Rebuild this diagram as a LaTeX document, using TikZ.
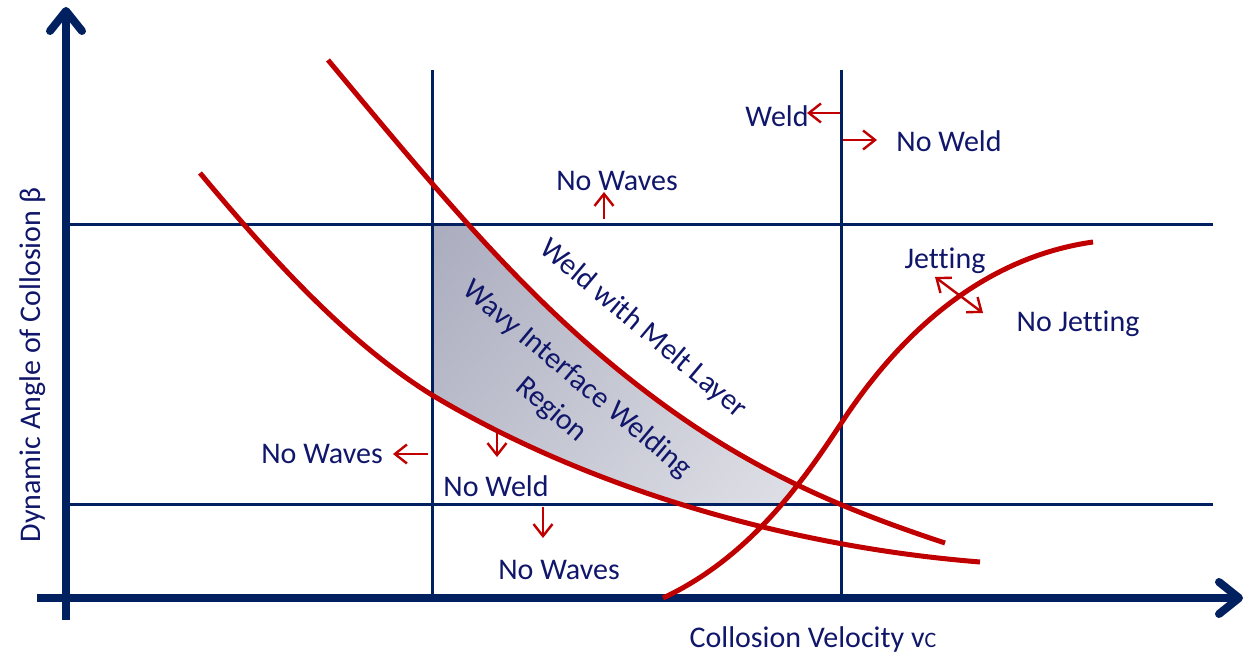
\documentclass[tikz,border=0pt]{standalone}
\usepackage{fontspec}
\setmainfont{Carlito}[Ligatures=CommonOff]
\usepackage{tikz}
\usetikzlibrary{arrows.meta, calc}
\definecolor{axisblue}{HTML}{002060}
\definecolor{textblue}{HTML}{10166A}
\definecolor{limitred}{HTML}{C00000}
\definecolor{shadedark}{HTML}{999CB2}
\definecolor{shadelight}{HTML}{E4E5EA}
\tikzset{
  axisline/.style={line width=4pt, draw=axisblue, -{Straight Barb[round, length=10pt, width=16pt]}},
  gridline/.style={line width=1.5pt, draw=axisblue},
  limitline/.style={line width=2.5pt, draw=limitred},
  hint/.style={line width=1.2pt, draw=limitred, -{Straight Barb[length=6pt, width=9.5pt]}},
  hintboth/.style={line width=1.2pt, draw=limitred, {Straight Barb[length=6pt, width=9.5pt]}-{Straight Barb[length=6pt, width=9.5pt]}},
  label/.style={text=textblue, font=\fontsize{15}{18}\selectfont, inner sep=0pt}
}

\begin{document}
\begin{tikzpicture}[x=0.5pt, y=-0.5pt]
  \useasboundingbox (0,0) rectangle (1252,656);

  % 1. shaded region between the two weld limits
  \begin{scope}
    \clip (432,225) rectangle (841,505);
    \clip (663,598) .. controls (753,556) and (807,475) .. (842,422)
      .. controls (892,346) and (973,259) .. (1093,242)
      -- (1093,0) -- (0,0) -- (0,656) -- (663,656) -- cycle;
    \shade[shading=axis, top color=shadedark, bottom color=shadelight, shading angle=50]
      (328,60) .. controls (448,204) and (533,307) .. (653,397)
      .. controls (753,472) and (845,510) .. (945,543)
      -- (980,562) .. controls (780,546) and (582,485) .. (432,395)
      .. controls (352,345) and (280,269) .. (200,173) -- cycle;
  \end{scope}

  % grid lines
  \draw [gridline] (66,225) -- (1213,225);
  \draw [gridline] (66,505) -- (1213,505);
  \draw [gridline] (432,70) -- (432,598);
  \draw [gridline] (841,70) -- (841,598);

  % axes
  \draw [axisline] (66,620) -- (66,7);
  \draw [axisline] (37,598) -- (1243,598);

  % 2. limit curves
  \draw [limitline] (328,60) .. controls (448,204) and (533,307) .. (653,397)
    .. controls (753,472) and (845,510) .. (945,543);
  \draw [limitline] (200,173) .. controls (280,269) and (352,345) .. (432,395)
    .. controls (582,485) and (780,546) .. (980,562);
  \draw [limitline] (663,598) .. controls (753,556) and (807,475) .. (842,422)
    .. controls (892,346) and (973,259) .. (1093,242);

  % labels
  \node (weld) [label] at (777,116) {Weld};
  \node (noweld) [label] at (949,141) {No Weld};
  \node (nowavestop) [label] at (617,181) {No Waves};
  \node (jetting) [label] at (945,261) {Jetting};
  \node (nojetting) [label] at (1078,324) {No Jetting};
  \node (melt) [label, rotate=-40] at (643,329) {Weld with Melt Layer};
  \node (wavy) [label, rotate=-40, align=center, font=\fontsize{15}{20}\selectfont] at (564,395) {Wavy Interface Welding\\Region};
  \node (nowavesleft) [label] at (322,454) {No Waves};
  \node (noweldlow) [label] at (496,486) {No Weld};
  \node (nowavesbottom) [label] at (559,570) {No Waves};
  \node (xlabel) [label] at (813,640) {Collosion Velocity v{\fontsize{11}{12}\selectfont C}};
  \node (ylabel) [label, rotate=90] at (33,365) {Dynamic Angle of Collosion β};

  % 3. small direction arrows
  \draw [hint] (840,113) -- (807,113);
  \draw [hint] (843,140) -- (877,140);
  \draw [hint] (604,219) -- (604,192);
  \draw [hintboth] (935,277) -- (983,313);
  \draw [hint] (428,454) -- (393,454);
  \draw [hint] (497,432) -- (497,457);
  \draw [hint] (543,507) -- (543,538);
\end{tikzpicture}
\end{document}
